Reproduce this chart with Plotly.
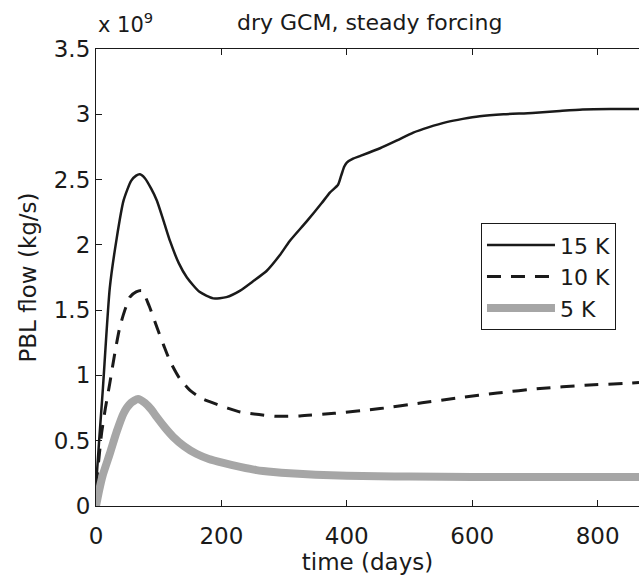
import plotly.graph_objects as go

# time (days) and PBL flow (units of 1e9 kg/s)
t15 = [0, 5, 11, 22, 33, 44, 56, 64, 70, 78, 88, 97, 108, 118, 132, 145, 165, 187, 208, 230, 250, 272, 293, 309, 336, 360, 373, 386, 391, 396, 400, 410, 421, 453, 480, 506, 530, 559, 585, 612, 650, 696, 740, 776, 820, 866]
y15 = [0.15, 0.5, 0.9, 1.67, 2.05, 2.34, 2.49, 2.53, 2.54, 2.51, 2.43, 2.34, 2.18, 2.03, 1.86, 1.75, 1.64, 1.59, 1.60, 1.65, 1.72, 1.80, 1.92, 2.03, 2.18, 2.32, 2.40, 2.46, 2.53, 2.60, 2.63, 2.66, 2.68, 2.74, 2.80, 2.86, 2.90, 2.94, 2.965, 2.985, 3.0, 3.01, 3.025, 3.036, 3.04, 3.04]

t10 = [0, 5, 9, 15, 22, 30, 38, 46, 54, 64, 73, 85, 97, 108, 118, 133, 150, 170, 192, 210, 230, 260, 288, 325, 380, 453, 520, 580, 640, 708, 780, 851, 866]
y10 = [0.15, 0.38, 0.56, 0.75, 0.94, 1.17, 1.37, 1.50, 1.60, 1.64, 1.65, 1.53, 1.37, 1.23, 1.11, 0.98, 0.885, 0.82, 0.78, 0.75, 0.72, 0.70, 0.687, 0.69, 0.71, 0.746, 0.79, 0.83, 0.865, 0.90, 0.925, 0.94, 0.945]

t5 = [0, 5, 11, 22, 33, 44, 56, 67, 78, 88, 97, 110, 123, 140, 160, 180, 203, 230, 256, 283, 309, 350, 400, 450, 500, 600, 700, 800, 866]
y5 = [0.0, 0.12, 0.24, 0.40, 0.57, 0.71, 0.79, 0.82, 0.79, 0.74, 0.68, 0.60, 0.53, 0.46, 0.40, 0.36, 0.33, 0.30, 0.275, 0.26, 0.25, 0.24, 0.232, 0.228, 0.225, 0.223, 0.222, 0.222, 0.222]

ytick_vals = [0, 0.5, 1, 1.5, 2, 2.5, 3, 3.5]
ytick_text = ["0", "0.5", "1", "1.5", "2", "2.5", "3", "3.5"]
xtick_vals = [0, 200, 400, 600, 800]

FONT = "DejaVu Sans, sans-serif"

fig = go.Figure()
fig.add_trace(go.Scatter(x=t15, y=y15, mode="lines", name="15 K",
                         line=dict(color="#1a1a1a", width=2.5, shape="spline", smoothing=0.6)))
fig.add_trace(go.Scatter(x=t10, y=y10, mode="lines", name="10 K",
                         line=dict(color="#1a1a1a", width=3, dash="14px,10px", shape="spline", smoothing=0.6)))
fig.add_trace(go.Scatter(x=t5, y=y5, mode="lines", name="5 K",
                         line=dict(color="#a6a6a6", width=8, shape="spline", smoothing=0.6)))

fig.update_layout(
    width=639, height=579,
    margin=dict(l=96, r=0, t=49, b=73),
    paper_bgcolor="white", plot_bgcolor="white",
    font=dict(family=FONT, size=23, color="#1a1a1a"),
    showlegend=True,
    legend=dict(x=0.709, y=0.619, xanchor="left", yanchor="top",
                bordercolor="#1a1a1a", borderwidth=1, bgcolor="white",
                font=dict(family=FONT, size=22), itemwidth=68, tracegroupgap=0),
    xaxis=dict(range=[0, 866], tickvals=xtick_vals, ticks="inside", ticklen=6,
               tickcolor="#1a1a1a", showline=True, linecolor="#1a1a1a", linewidth=1.2,
               mirror="ticks", showgrid=False, zeroline=False, ticklabelstandoff=9,
               tickfont=dict(family=FONT, size=23),
               title=dict(text="time (days)", font=dict(family=FONT, size=23), standoff=0)),
    yaxis=dict(range=[0, 3.5], tickvals=ytick_vals, ticktext=ytick_text, ticks="inside",
               ticklen=6, tickcolor="#1a1a1a", showline=True, linecolor="#1a1a1a",
               linewidth=1.2, showgrid=False, zeroline=False,
               tickfont=dict(family=FONT, size=23),
               title=dict(text="PBL flow (kg/s)", font=dict(family=FONT, size=23), standoff=10)),
    annotations=[
        dict(text="dry GCM, steady forcing", xref="paper", yref="paper",
             x=0.5046, y=1.0, yshift=49 - 22, xanchor="center", yanchor="middle",
             showarrow=False, font=dict(family=FONT, size=22)),
        dict(text="x 10<sup>9</sup>", xref="paper", yref="paper",
             x=0.0, y=1.0, yshift=10, xanchor="left", yanchor="bottom",
             showarrow=False, font=dict(family=FONT, size=21)),
    ],
)

fig.write_html("out.html")
